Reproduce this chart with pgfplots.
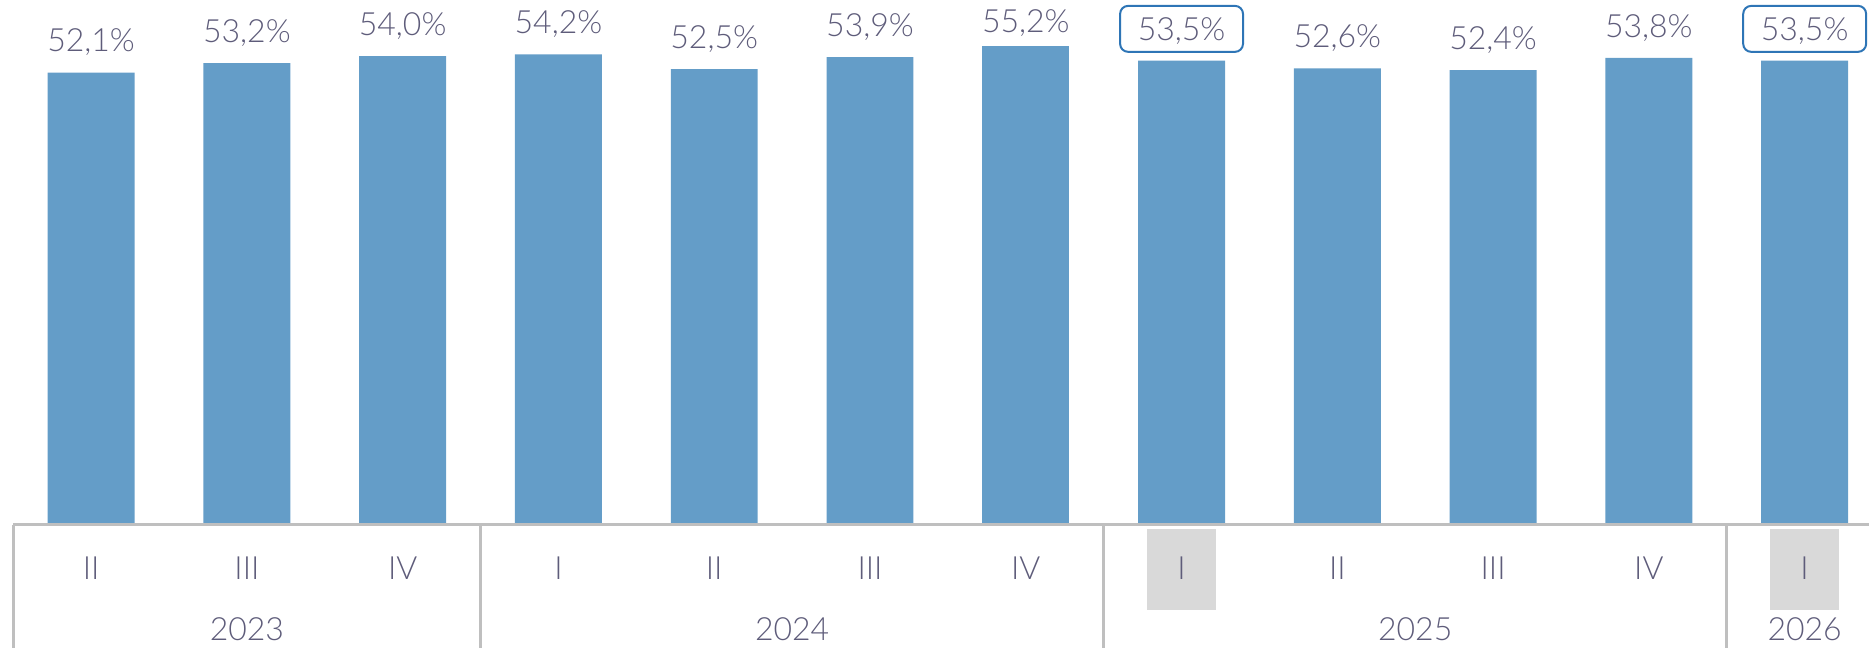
\documentclass[border=0pt]{standalone}
\usepackage{pgfplots}
\pgfplotsset{compat=1.18}
\usepackage{fontspec}
\setmainfont{Lato Light}
\definecolor{barblue}{RGB}{100,157,200}
\definecolor{txt}{RGB}{94,92,122}
\definecolor{axgray}{RGB}{191,191,191}
\definecolor{hlgray}{RGB}{217,217,217}
\definecolor{boxblue}{RGB}{46,117,182}
\tikzset{
  lab/.style={font=\fontsize{16}{16}\selectfont, text=txt, inner sep=0pt, anchor=center},
  vallab/.style={font=\fontsize{16}{16}\selectfont, text=txt, inner sep=0pt, text depth=0pt},
}
\pgfplotsset{
  barstyle/.style={ybar, bar width=43.5pt, bar shift=0pt, fill=barblue, draw=none,
    nodes near coords, point meta=explicit symbolic},
}
\begin{document}
\begin{tikzpicture}
\begin{axis}[
  scale only axis, width=935pt, height=262.5pt,
  xmin=-0.585, xmax=11.41, ymin=0, ymax=60.48,
  hide axis, clip=false,
]
\path (rel axis cs:0,0) (rel axis cs:1,1);
% highlight boxes behind category labels
\fill[hlgray] ([xshift=-17.25pt,yshift=-2pt]axis cs:7,0) rectangle ([xshift=17.25pt,yshift=-42.5pt]axis cs:7,0);
\fill[hlgray] ([xshift=-17.25pt,yshift=-2pt]axis cs:11,0) rectangle ([xshift=17.25pt,yshift=-42.5pt]axis cs:11,0);
% bars with plain labels
\addplot[barstyle,
  every node near coord/.append style={vallab, yshift=10.2pt}]
  coordinates {
  (0,52.1) [52,1\%]
  (1,53.2) [53,2\%]
  (2,54.0) [54,0\%]
  (3,54.2) [54,2\%]
  (4,52.5) [52,5\%]
  (5,53.9) [53,9\%]
  (8,52.6) [52,6\%]
  (9,52.4) [52,4\%]
  (10,53.8) [53,8\%]
  };
% tallest bar: label kept inside the chart area
\addplot[barstyle,
  every node near coord/.append style={vallab, yshift=6.7pt}]
  coordinates {
  (6,55.2) [55,2\%]
  };
% bars with boxed labels
\addplot[barstyle,
  every node near coord/.append style={vallab, text height=11.5pt, yshift=3.85pt,
    draw=boxblue, line width=1pt, rounded corners=4pt, fill=white, minimum width=61.5pt, minimum height=23pt}]
  coordinates {
  (7,53.5) [53,5\%]
  (11,53.5) [53,5\%]
  };
% category axis
\draw[axgray, line width=1.5pt] (axis cs:-0.5,0) -- (axis cs:11.41,0);
\pgfplotsinvokeforeach{-0.5,2.5,6.5,10.5}{
  \draw[axgray, line width=1.5pt] (axis cs:#1,0) -- ([yshift=-62pt]axis cs:#1,0);
}
\node[lab] at ([yshift=-22pt]axis cs:0,0) {II};
\node[lab] at ([yshift=-22pt]axis cs:1,0) {III};
\node[lab] at ([yshift=-22pt]axis cs:2,0) {IV};
\node[lab] at ([yshift=-22pt]axis cs:3,0) {I};
\node[lab] at ([yshift=-22pt]axis cs:4,0) {II};
\node[lab] at ([yshift=-22pt]axis cs:5,0) {III};
\node[lab] at ([yshift=-22pt]axis cs:6,0) {IV};
\node[lab] at ([yshift=-22pt]axis cs:7,0) {I};
\node[lab] at ([yshift=-22pt]axis cs:8,0) {II};
\node[lab] at ([yshift=-22pt]axis cs:9,0) {III};
\node[lab] at ([yshift=-22pt]axis cs:10,0) {IV};
\node[lab] at ([yshift=-22pt]axis cs:11,0) {I};
\node[lab] at ([yshift=-52.5pt]axis cs:1,0) {2023};
\node[lab] at ([yshift=-52.5pt]axis cs:4.5,0) {2024};
\node[lab] at ([yshift=-52.5pt]axis cs:8.5,0) {2025};
\node[lab] at ([yshift=-52.5pt]axis cs:11,0) {2026};
\end{axis}
\end{tikzpicture}
\end{document}
